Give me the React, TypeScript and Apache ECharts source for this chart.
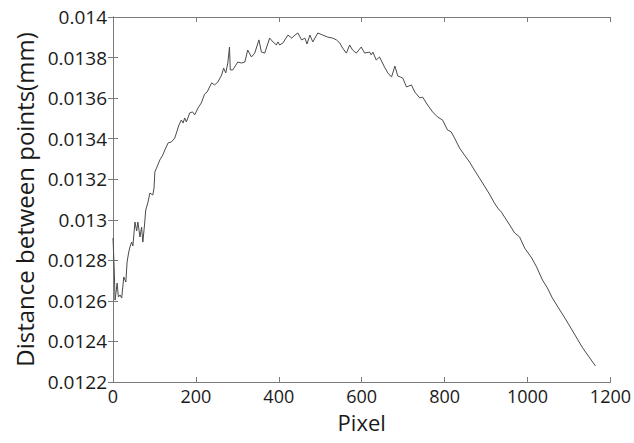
import React, { useEffect, useRef } from "react";
import * as echarts from "echarts";

const xTicks = [0, 200, 400, 600, 800, 1000, 1200];
const yTicks = [0.0122, 0.0124, 0.0126, 0.0128, 0.013, 0.0132, 0.0134, 0.0136, 0.0138, 0.014];

const pixelX = [
  0, 3, 5, 8, 10, 13, 17, 21, 26, 31, 34, 38, 41, 45, 48, 53, 57, 60, 65, 69,
  72, 76, 79, 84, 89, 96, 99, 101, 105, 113, 120, 125, 133, 141, 149, 153, 159, 165, 169, 173,
  177, 185, 192, 197, 205, 213, 221, 227, 238, 245, 253, 262, 267, 272, 277, 281, 283, 289, 301, 310,
  318, 325, 334, 342, 352, 358, 366, 378, 386, 394, 398, 402, 410, 422, 431, 439, 446, 455, 463, 468,
  475, 482, 494, 506, 518, 530, 539, 547, 554, 563, 571, 578, 587, 599, 607, 619, 623, 627, 635, 643,
  655, 663, 672, 680, 687, 693, 699, 708, 720, 728, 740, 747, 759, 771, 783, 795, 807, 816, 824, 836,
  848, 860, 872, 884, 896, 908, 920, 930, 937, 946, 957, 969, 981, 993, 1010, 1022, 1036, 1048, 1060, 1093,
  1133, 1164,
];

const distance = [
  0.01291, 0.012752, 0.012604, 0.012654, 0.012688, 0.012619, 0.012629, 0.012614, 0.012718, 0.012693,
  0.012792, 0.012841, 0.012866, 0.01289, 0.012871, 0.012989, 0.012945, 0.012989, 0.012915, 0.012964,
  0.01289, 0.012974, 0.013048, 0.013083, 0.013132, 0.013122, 0.013157, 0.013236, 0.013255, 0.013295,
  0.013319, 0.013344, 0.013379, 0.013384, 0.013403, 0.013428, 0.013467, 0.013492, 0.013477, 0.013502,
  0.013482, 0.013527, 0.013532, 0.013517, 0.013551, 0.013576, 0.01362, 0.01363, 0.013675, 0.013665,
  0.013679, 0.013714, 0.013748, 0.013724, 0.013773, 0.013852, 0.013739, 0.013739, 0.013778, 0.013773,
  0.013778, 0.013837, 0.013803, 0.013822, 0.013887, 0.013827, 0.013822, 0.013896, 0.013877, 0.013862,
  0.013877, 0.013862, 0.013872, 0.013911, 0.013896, 0.013911, 0.013921, 0.013887, 0.013896, 0.013867,
  0.013911, 0.013877, 0.013921, 0.013911, 0.013901, 0.013896, 0.013887, 0.013872, 0.013847, 0.013822,
  0.013862, 0.013837, 0.013822, 0.013852, 0.013822, 0.013827, 0.013813, 0.013827, 0.013788, 0.013803,
  0.013753, 0.013724, 0.013704, 0.013758, 0.013709, 0.013704, 0.013699, 0.013655, 0.013665, 0.01363,
  0.013601, 0.013605, 0.013566, 0.013532, 0.013507, 0.013492, 0.013443, 0.013433, 0.013403, 0.013354,
  0.013319, 0.013285, 0.013245, 0.013206, 0.013167, 0.013127, 0.013083, 0.013053, 0.013038, 0.013009,
  0.012974, 0.012935, 0.012915, 0.012861, 0.012812, 0.012767, 0.012703, 0.012664, 0.012614, 0.012506,
  0.012368, 0.012279,
];

const FONT = "Open Sans";
const AXIS_COLOR = "#7a7a7a";
const TEXT_COLOR = "#1a1a1a";

export default function App() {
  const ref = useRef<HTMLDivElement>(null);

  useEffect(() => {
    if (!ref.current) return;
    const chart = echarts.init(ref.current, null, { renderer: "svg" });
    const seriesData = pixelX.map((x, i) => [x, distance[i]]);
    const fmtY = (v: number) => parseFloat(v.toFixed(4)).toString();
    const fmtX = (v: number) => String(Math.round(v));
    const xMin = xTicks[0];
    const xMax = xTicks[xTicks.length - 1];
    const xInt = xTicks[1] - xTicks[0];
    const yMin = yTicks[0];
    const yMax = yTicks[yTicks.length - 1];
    const yInt = 0.0002;

    const common = {
      axisLine: { show: true, lineStyle: { color: AXIS_COLOR, width: 1 } },
      axisTick: { show: true, inside: true, length: 5, lineStyle: { color: AXIS_COLOR } },
      splitLine: { show: false },
    };

    chart.setOption({
      animation: false,
      backgroundColor: "#ffffff",
      textStyle: { fontFamily: FONT },
      grid: { left: 113, right: 23, top: 17, bottom: 61, containLabel: false },
      xAxis: [
        {
          type: "value",
          min: xMin,
          max: xMax,
          interval: xInt,
          position: "bottom",
          ...common,
          axisLabel: { fontSize: 18, color: TEXT_COLOR, fontFamily: FONT, margin: 5, formatter: fmtX },
          name: "Pixel",
          nameLocation: "middle",
          nameGap: 29,
          nameTextStyle: { fontSize: 22, color: TEXT_COLOR, fontFamily: FONT },
        },
        {
          type: "value",
          min: xMin,
          max: xMax,
          interval: xInt,
          position: "top",
          ...common,
          axisLabel: { show: false },
        },
      ],
      yAxis: [
        {
          type: "value",
          min: yMin,
          max: yMax,
          interval: yInt,
          position: "left",
          ...common,
          axisLabel: {
            fontSize: 19,
            color: TEXT_COLOR,
            fontFamily: FONT,
            margin: 6,
            formatter: fmtY,
          },
          name: "Distance between points(mm)",
          nameLocation: "middle",
          nameGap: 72,
          nameRotate: 90,
          nameTextStyle: { fontSize: 24, color: TEXT_COLOR, fontFamily: FONT },
        },
        {
          type: "value",
          min: yMin,
          max: yMax,
          interval: yInt,
          position: "right",
          ...common,
          axisLabel: { show: false },
        },
      ],
      series: [
        {
          type: "line",
          data: seriesData,
          xAxisIndex: 0,
          yAxisIndex: 0,
          showSymbol: false,
          symbol: "none",
          lineStyle: { color: "#4a4a4a", width: 1 },
          silent: true,
        },
      ],
    });
    return () => chart.dispose();
  }, []);

  return <div ref={ref} style={{ width: 634, height: 443, position: "absolute", left: 0, top: 0 }} />;
}
